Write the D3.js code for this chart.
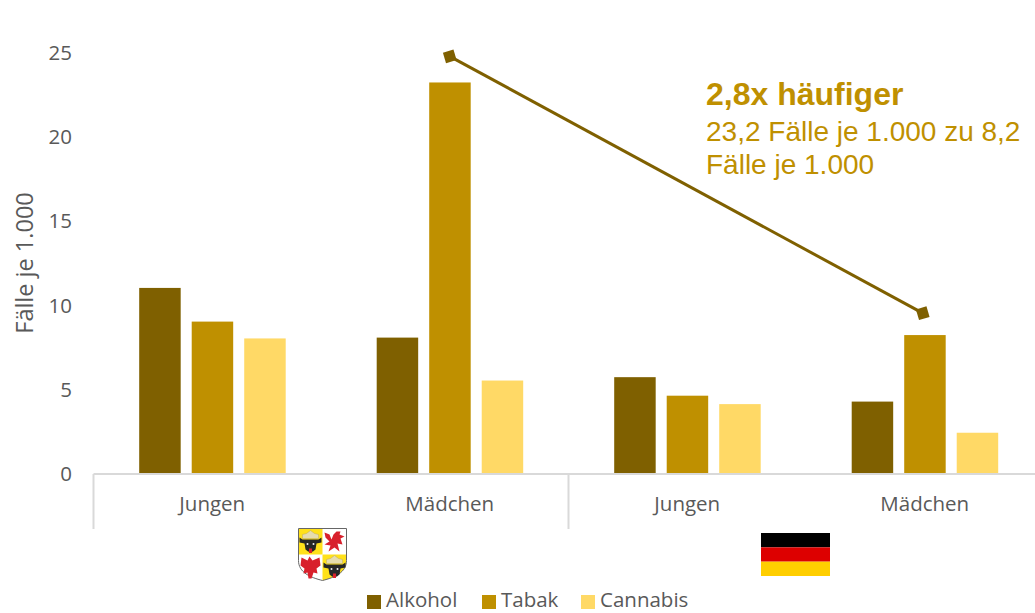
<!DOCTYPE html>
<html>
<head>
<meta charset="utf-8">
<script src="https://cdn.jsdelivr.net/npm/d3@7"></script>
<style>
    html, body { margin: 0; padding: 0; background: #fff; }
    svg { display: block; }
</style>
</head>
<body>
<svg id="chart" width="1035" height="613"></svg>
<script>
const categories = ['Jungen', 'Mädchen'];
const substances = ['Alkohol', 'Tabak', 'Cannabis'];
const colors = ['#7f6000', '#bf9000', '#ffd966'];
const yTicks = [0, 5, 10, 15, 20, 25];

const alkoholValues = [11.05, 8.1, 5.75, 4.3];
const tabakValues = [9.05, 23.25, 4.65, 8.25];
const cannabisValues = [8.05, 5.55, 4.15, 2.45];
const allValues = [alkoholValues, tabakValues, cannabisValues];

// annotation line: [band index, value] at each end
const arrowFrom = [1, 24.8];
const arrowTo = [3, 9.55];

const axisFont = '"Open Sans", sans-serif';
const noteFont = '"Liberation Sans", Arial, sans-serif';
const textColor = '#595959';
const gridColor = '#d9d9d9';
const shieldYellow = '#ffe11a';
const shieldRed = '#d8202c';

let svg = d3.select('#chart');

let bands = d3.range(alkoholValues.length);
let xScale = d3.scaleBand().domain(bands).range([93.5, 1043.5]);
let yScale = d3.scaleLinear().domain([0, 25]).range([474, 53]);

let barGroupWidth = 146.5;
let subOffset = (xScale.bandwidth() - barGroupWidth) / 2 + 0.2;
let subScale = d3.scaleBand()
    .domain(d3.range(substances.length))
    .range([subOffset, subOffset + barGroupWidth])
    .paddingInner(0.21)
    .paddingOuter(0);

// y axis (labels only)
let yAxis = d3.axisLeft(yScale).tickValues(yTicks).tickSize(0).tickPadding(0).tickFormat(d3.format('d'));
let yAxisG = svg.append('g')
    .attr('transform', 'translate(72,0)')
    .call(yAxis);
yAxisG.select('.domain').remove();
yAxisG.selectAll('text')
    .attr('font-family', axisFont)
    .attr('font-size', 20.5)
    .attr('fill', textColor);

svg.append('text')
    .attr('transform', 'translate(33,263) rotate(-90)')
    .attr('text-anchor', 'middle')
    .attr('font-family', axisFont)
    .attr('font-size', 23.5)
    .attr('fill', textColor)
    .text('Fälle je 1.000');

// bars
allValues.forEach(function (values, s) {
    svg.append('g')
        .selectAll('rect')
        .data(values)
        .enter().append('rect')
        .attr('x', (d, i) => xScale(i) + subScale(s))
        .attr('y', d => yScale(d))
        .attr('width', subScale.bandwidth())
        .attr('height', d => yScale(0) - yScale(d))
        .attr('fill', colors[s]);
});

// category axis with group separators
let axisG = svg.append('g').attr('stroke', gridColor).attr('stroke-width', 2);
axisG.append('line')
    .attr('x1', xScale(0)).attr('x2', 1035)
    .attr('y1', yScale(0)).attr('y2', yScale(0));
[0, 2].forEach(function (i) {
    axisG.append('line')
        .attr('x1', xScale(i)).attr('x2', xScale(i))
        .attr('y1', yScale(0)).attr('y2', 529);
});

svg.append('g')
    .selectAll('text')
    .data(bands)
    .enter().append('text')
    .attr('x', d => xScale(d) + xScale.bandwidth() / 2)
    .attr('y', 511)
    .attr('text-anchor', 'middle')
    .attr('font-family', axisFont)
    .attr('font-size', 20.5)
    .attr('fill', textColor)
    .text(d => categories[d % 2]);

// annotation line with square ends
let lineColor = colors[0];
let x1 = xScale(arrowFrom[0]) + xScale.bandwidth() / 2;
let y1 = yScale(arrowFrom[1]);
let x2 = xScale(arrowTo[0]) + xScale.bandwidth() / 2 - 2;
let y2 = yScale(arrowTo[1]);
let angle = Math.atan2(y2 - y1, x2 - x1) * 180 / Math.PI;

svg.append('line')
    .attr('x1', x1).attr('y1', y1)
    .attr('x2', x2).attr('y2', y2)
    .attr('stroke', lineColor)
    .attr('stroke-width', 3);
[[x1, y1], [x2, y2]].forEach(function (p) {
    svg.append('rect')
        .attr('x', -5.5).attr('y', -5.5)
        .attr('width', 11).attr('height', 11)
        .attr('transform', 'translate(' + p[0] + ',' + p[1] + ') rotate(' + (angle - 45) + ')')
        .attr('fill', lineColor);
});

// annotation text
svg.append('text')
    .attr('x', 706).attr('y', 105)
    .attr('font-family', noteFont)
    .attr('font-size', 32)
    .attr('font-weight', 'bold')
    .attr('fill', colors[1])
    .text('2,8x häufiger');
svg.append('text')
    .attr('x', 706).attr('y', 141)
    .attr('font-family', noteFont)
    .attr('font-size', 28)
    .attr('fill', colors[1])
    .text('23,2 Fälle je 1.000 zu 8,2');
svg.append('text')
    .attr('x', 706).attr('y', 174)
    .attr('font-family', noteFont)
    .attr('font-size', 28)
    .attr('fill', colors[1])
    .text('Fälle je 1.000');

// coat of arms
function drawShield(g) {
    let shield = 'M0,0H48V32C48,44 36,49 24,52C12,49 0,44 0,32Z';
    let clipId = 'shield-clip';
    g.append('clipPath').attr('id', clipId).append('path').attr('d', shield);
    let inner = g.append('g').attr('clip-path', 'url(#' + clipId + ')');
    inner.append('rect').attr('width', 48).attr('height', 53).attr('fill', '#fff');
    inner.append('rect').attr('width', 24).attr('height', 26).attr('fill', shieldYellow);
    inner.append('rect').attr('x', 24).attr('y', 26).attr('width', 24).attr('height', 27).attr('fill', shieldYellow);
    g.append('path').attr('d', shield).attr('fill', 'none').attr('stroke', '#666').attr('stroke-width', 1);

    // bull heads with crown
    [[12, 14], [36, 39]].forEach(function (c) {
        let h = g.append('g').attr('transform', 'translate(' + c[0] + ',' + c[1] + ')');
        h.append('path').attr('d', 'M-8,-4L-8,-8L-4,-9L0,-12L4,-9L8,-8L8,-4Z').attr('fill', '#e6dcae').attr('stroke', '#b0a060').attr('stroke-width', 0.4);
        h.append('path').attr('d', 'M-11,-5L-8,-3H8L11,-5L11,0L6,1L5,7Q0,12 -5,7L-6,1L-11,0Z').attr('fill', '#262626');
        h.append('rect').attr('x', -1.5).attr('y', 6).attr('width', 3).attr('height', 4.5).attr('fill', shieldRed);
        h.append('circle').attr('cx', -3).attr('cy', 1.5).attr('r', 1).attr('fill', '#eee');
        h.append('circle').attr('cx', 3).attr('cy', 1.5).attr('r', 1).attr('fill', '#eee');
    });
    // griffin top right, eagle bottom left
    g.append('path')
        .attr('transform', 'translate(36,13)')
        .attr('d', 'M-10,-9L-5,-7L-3,-2L-1,-7L2,-10L6,-10L5,-7L10,-5L6,-3L8,3L3,2L5,10L0,6L-6,10L-4,4L-10,3L-5,0L-9,-4Z')
        .attr('fill', shieldRed);
    g.append('path')
        .attr('transform', 'translate(12,39)')
        .attr('d', 'M-1,-11L2,-7L9,-10L10,-2L6,1L7,6L3,5L1,11L-2,11L-3,5L-7,6L-6,1L-10,-2L-9,-10L-3,-7Z')
        .attr('fill', shieldRed);
}
drawShield(svg.append('g').attr('transform', 'translate(298.5,528.5)'));

// flag
let flagColors = ['#000000', '#dd0000', '#ffce00'];
let flagScale = d3.scaleBand().domain([0, 1, 2]).range([533, 576]);
svg.append('g')
    .selectAll('rect')
    .data(flagColors)
    .enter().append('rect')
    .attr('x', 761)
    .attr('y', (d, i) => flagScale(i))
    .attr('width', 69)
    .attr('height', flagScale.bandwidth())
    .attr('fill', d => d);

// legend
let legendX = [367, 482, 581];
substances.forEach(function (name, i) {
    svg.append('rect')
        .attr('x', legendX[i]).attr('y', 595)
        .attr('width', 14).attr('height', 14)
        .attr('fill', colors[i]);
    svg.append('text')
        .attr('x', legendX[i] + 19).attr('y', 606.5)
        .attr('font-family', axisFont)
        .attr('font-size', 20.5)
        .attr('fill', textColor)
        .text(name);
});
</script>
</body>
</html>
